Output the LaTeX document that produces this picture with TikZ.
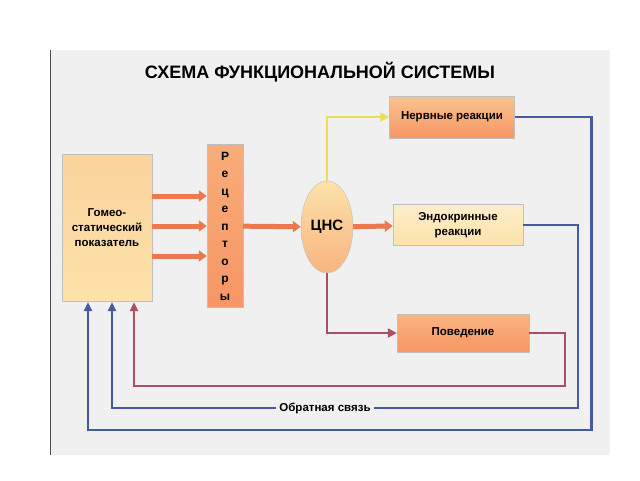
\documentclass[tikz,border=0pt]{standalone}
\usepackage{fontspec}
\setmainfont{Liberation Sans}
\setsansfont{Liberation Sans}
\usetikzlibrary{arrows.meta,positioning,calc,shapes.geometric}
\definecolor{boxor}{RGB}{246,150,100}
\definecolor{boxlt}{RGB}{252,226,170}
\definecolor{arror}{RGB}{236,120,80}
\definecolor{fbblue}{RGB}{70,90,160}
\definecolor{fbred}{RGB}{170,80,100}
\definecolor{fbyel}{RGB}{236,220,90}
\begin{document}
\begin{tikzpicture}[x=1pt,y=-1pt,
  blk/.style={draw=black!25, font=\sffamily\bfseries\fontsize{11.5}{15}\selectfont, align=center,
    top color=boxlt, bottom color=boxor, inner sep=2pt},
  fat/.style={-{Triangle[length=8pt,width=11pt]}, line width=5pt, draw=arror},
  fb/.style={line width=2.5pt, -{Triangle[length=9pt,width=8pt]}}]
  \fill[white] (0,0) rectangle (640,480);
  \fill[black!6] (50,50) rectangle (610,455);
  \draw[black!70, line width=0.6pt] (50,50) -- (50,455);
  \node[font=\sffamily\bfseries\fontsize{18}{20}\selectfont] (title) at (320,72) {СХЕМА ФУНКЦИОНАЛЬНОЙ СИСТЕМЫ};

  \node[blk, minimum width=90pt, minimum height=147pt,
    top color=boxlt!80!boxor, bottom color=boxlt] (hom) at (107,228)
    {Гомео-\\статический\\показатель};
  \node[blk, minimum width=36pt, minimum height=163pt, font=\sffamily\bfseries\fontsize{12}{17.5}\selectfont,
    top color=boxor!70!boxlt, bottom color=boxor] (rec) at (225,226)
    {Р\\е\\ц\\е\\п\\т\\о\\р\\ы};
  \node[blk, ellipse, minimum width=52pt, minimum height=92pt,
    top color=boxlt, bottom color=boxor!60!boxlt, font=\sffamily\bfseries\fontsize{15}{17}\selectfont] (cns) at (327,227) {ЦНС};
  \node[blk, minimum width=125pt, minimum height=42pt,
    top color=boxlt!60!boxor, bottom color=boxor] (ner) at (452,117) {Нервные реакции};
  \node[blk, minimum width=130pt, minimum height=41pt,
    top color=boxlt!60!white, bottom color=boxlt] (end) at (458,225) {Эндокринные\\реакции};
  \node[blk, minimum width=132pt, minimum height=38pt,
    top color=boxlt!40!boxor, bottom color=boxor] (pov) at (463,333) {Поведение};

  \foreach \yy in {196,226,256}
    \draw[fat] (hom.east |- {0,\yy}) -- (rec.west |- {0,\yy});
  \draw[fat] (rec) -- (cns);
  \draw[fat] (cns) -- (end);
  \draw[line width=2.5pt, draw=fbyel, -{Triangle[length=9pt,width=9pt]}] (cns.north) |- (ner.west);
  \draw[line width=2.5pt, draw=fbred, -{Triangle[length=9pt,width=9pt]}] (cns.south) |- (pov.west);

  % обратная связь
  \coordinate (h1) at (88,302);
  \coordinate (h2) at (112,302);
  \coordinate (h3) at (134,302);
  \draw[fb, draw=fbblue] (ner.east) -- ++(77,0) |- (88,430) -- (h1);
  \draw[fb, draw=fbblue] (end.east) -- ++(55,0) |- (112,408) -- (h2);
  \draw[fb, draw=fbred] (pov.east) -- ++(36,0) |- (134,386) -- (h3);
  \node[fill=black!6, font=\sffamily\bfseries\fontsize{11.5}{13}\selectfont, inner sep=3pt] (fblab) at (325,408) {Обратная связь};
\end{tikzpicture}
\end{document}
